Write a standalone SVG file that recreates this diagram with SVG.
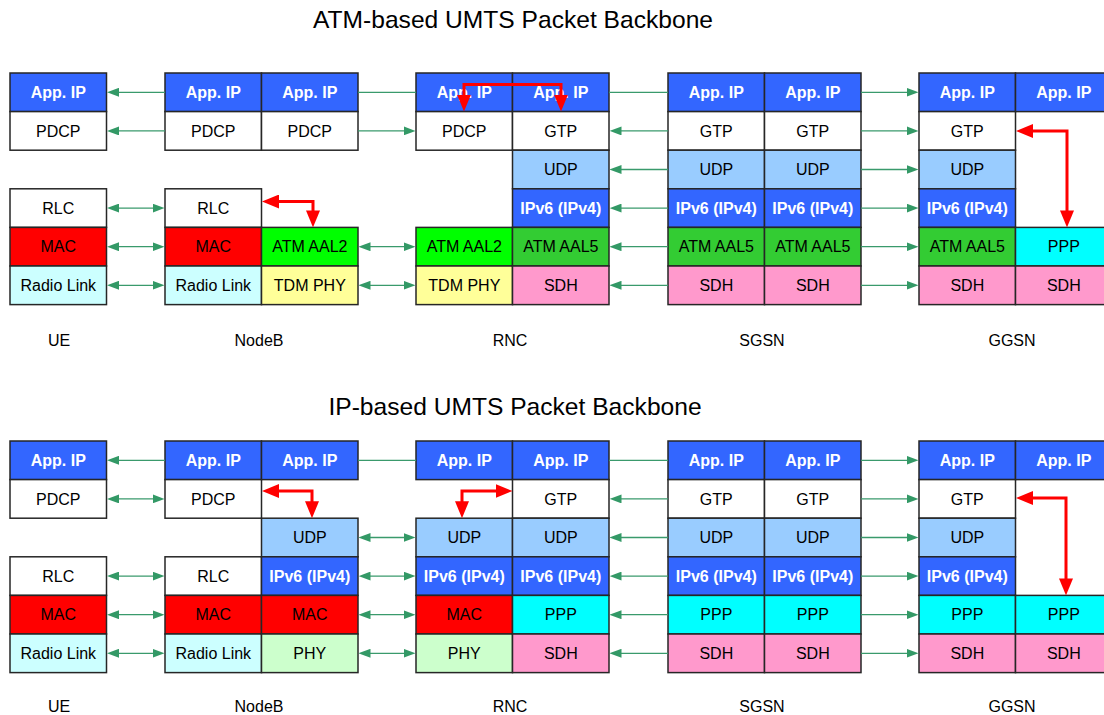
<svg xmlns="http://www.w3.org/2000/svg" width="1104" height="715" viewBox="0 0 1104 715">
  <style>
    text { font-family: "Liberation Sans", Arial, sans-serif; }
    .title { font-size: 24.6px; fill: #000; text-anchor: middle; }
    .lbl { font-size: 16px; fill: #000; text-anchor: middle; }
    .cell rect { stroke: #262626; stroke-width: 1.5; }
    .cell text { font-size: 16px; text-anchor: middle; fill: #000; }
    .cell text.w { fill: #fff; font-weight: bold; }
    .app { fill: #3366ff; }
    .wht { fill: #ffffff; }
    .udp { fill: #99ccff; }
    .ip6 { fill: #3366ff; }
    .aal2 { fill: #00ff00; }
    .aal5 { fill: #33cc33; }
    .tdm { fill: #ffff99; }
    .sdh { fill: #ff99cc; }
    .mac { fill: #ff0000; }
    .rad { fill: #ccffff; }
    .ppp { fill: #00ffff; }
    .phy { fill: #ccffcc; }
    .g { fill: none; stroke: #3a9a6c; stroke-width: 1.3; }
    .r { fill: none; stroke: #ff0000; stroke-width: 3; }
  </style>
  <defs>
    <marker id="ga" markerUnits="userSpaceOnUse" markerWidth="12" markerHeight="9" refX="7" refY="4.5" orient="auto-start-reverse">
      <path d="M0,0 L12,4.5 L0,9 z" fill="#339966"/>
    </marker>
    <marker id="ra" markerUnits="userSpaceOnUse" markerWidth="17" markerHeight="14" refX="8" refY="7" orient="auto-start-reverse">
      <path d="M0,0 L17,7 L0,14 z" fill="#ff0000"/>
    </marker>
  </defs>

  <text class="title" x="513" y="28">ATM-based UMTS Packet Backbone</text>
  <text class="title" x="515" y="415">IP-based UMTS Packet Backbone</text>

  <!-- ===== ATM-based backbone ===== -->
  <g id="ue-atm" class="cell">
    <rect class="app" x="10" y="73" width="96.5" height="38.6"/><text class="w" x="58.3" y="98">App. IP</text>
    <rect class="wht" x="10" y="111.6" width="96.5" height="38.6"/><text x="58.3" y="136.6">PDCP</text>
    <rect class="wht" x="10" y="188.8" width="96.5" height="38.6"/><text x="58.3" y="213.8">RLC</text>
    <rect class="mac" x="10" y="227.4" width="96.5" height="38.6"/><text x="58.3" y="252.4">MAC</text>
    <rect class="rad" x="10" y="266" width="96.5" height="38.6"/><text x="58.3" y="291">Radio Link</text>
  </g>
  <g id="nodeb-atm" class="cell">
    <rect class="app" x="165" y="73" width="96.5" height="38.6"/><text class="w" x="213.3" y="98">App. IP</text>
    <rect class="wht" x="165" y="111.6" width="96.5" height="38.6"/><text x="213.3" y="136.6">PDCP</text>
    <rect class="wht" x="165" y="188.8" width="96.5" height="38.6"/><text x="213.3" y="213.8">RLC</text>
    <rect class="mac" x="165" y="227.4" width="96.5" height="38.6"/><text x="213.3" y="252.4">MAC</text>
    <rect class="rad" x="165" y="266" width="96.5" height="38.6"/><text x="213.3" y="291">Radio Link</text>
    <rect class="app" x="261.5" y="73" width="96.5" height="38.6"/><text class="w" x="309.8" y="98">App. IP</text>
    <rect class="wht" x="261.5" y="111.6" width="96.5" height="38.6"/><text x="309.8" y="136.6">PDCP</text>
    <rect class="aal2" x="261.5" y="227.4" width="96.5" height="38.6"/><text x="309.8" y="252.4">ATM AAL2</text>
    <rect class="tdm" x="261.5" y="266" width="96.5" height="38.6"/><text x="309.8" y="291">TDM PHY</text>
  </g>
  <g id="rnc-atm" class="cell">
    <rect class="app" x="416" y="73" width="96.5" height="38.6"/><text class="w" x="464.3" y="98">App. IP</text>
    <rect class="wht" x="416" y="111.6" width="96.5" height="38.6"/><text x="464.3" y="136.6">PDCP</text>
    <rect class="aal2" x="416" y="227.4" width="96.5" height="38.6"/><text x="464.3" y="252.4">ATM AAL2</text>
    <rect class="tdm" x="416" y="266" width="96.5" height="38.6"/><text x="464.3" y="291">TDM PHY</text>
    <rect class="app" x="512.5" y="73" width="96.5" height="38.6"/><text class="w" x="560.8" y="98">App. IP</text>
    <rect class="wht" x="512.5" y="111.6" width="96.5" height="38.6"/><text x="560.8" y="136.6">GTP</text>
    <rect class="udp" x="512.5" y="150.2" width="96.5" height="38.6"/><text x="560.8" y="175.2">UDP</text>
    <rect class="ip6" x="512.5" y="188.8" width="96.5" height="38.6"/><text class="w" x="560.8" y="213.8">IPv6 (IPv4)</text>
    <rect class="aal5" x="512.5" y="227.4" width="96.5" height="38.6"/><text x="560.8" y="252.4">ATM AAL5</text>
    <rect class="sdh" x="512.5" y="266" width="96.5" height="38.6"/><text x="560.8" y="291">SDH</text>
  </g>
  <g id="sgsn-atm" class="cell">
    <rect class="app" x="668" y="73" width="96.5" height="38.6"/><text class="w" x="716.3" y="98">App. IP</text>
    <rect class="wht" x="668" y="111.6" width="96.5" height="38.6"/><text x="716.3" y="136.6">GTP</text>
    <rect class="udp" x="668" y="150.2" width="96.5" height="38.6"/><text x="716.3" y="175.2">UDP</text>
    <rect class="ip6" x="668" y="188.8" width="96.5" height="38.6"/><text class="w" x="716.3" y="213.8">IPv6 (IPv4)</text>
    <rect class="aal5" x="668" y="227.4" width="96.5" height="38.6"/><text x="716.3" y="252.4">ATM AAL5</text>
    <rect class="sdh" x="668" y="266" width="96.5" height="38.6"/><text x="716.3" y="291">SDH</text>
    <rect class="app" x="764.5" y="73" width="96.5" height="38.6"/><text class="w" x="812.8" y="98">App. IP</text>
    <rect class="wht" x="764.5" y="111.6" width="96.5" height="38.6"/><text x="812.8" y="136.6">GTP</text>
    <rect class="udp" x="764.5" y="150.2" width="96.5" height="38.6"/><text x="812.8" y="175.2">UDP</text>
    <rect class="ip6" x="764.5" y="188.8" width="96.5" height="38.6"/><text class="w" x="812.8" y="213.8">IPv6 (IPv4)</text>
    <rect class="aal5" x="764.5" y="227.4" width="96.5" height="38.6"/><text x="812.8" y="252.4">ATM AAL5</text>
    <rect class="sdh" x="764.5" y="266" width="96.5" height="38.6"/><text x="812.8" y="291">SDH</text>
  </g>
  <g id="ggsn-atm" class="cell">
    <rect class="app" x="919" y="73" width="96.5" height="38.6"/><text class="w" x="967.3" y="98">App. IP</text>
    <rect class="wht" x="919" y="111.6" width="96.5" height="38.6"/><text x="967.3" y="136.6">GTP</text>
    <rect class="udp" x="919" y="150.2" width="96.5" height="38.6"/><text x="967.3" y="175.2">UDP</text>
    <rect class="ip6" x="919" y="188.8" width="96.5" height="38.6"/><text class="w" x="967.3" y="213.8">IPv6 (IPv4)</text>
    <rect class="aal5" x="919" y="227.4" width="96.5" height="38.6"/><text x="967.3" y="252.4">ATM AAL5</text>
    <rect class="sdh" x="919" y="266" width="96.5" height="38.6"/><text x="967.3" y="291">SDH</text>
    <rect class="app" x="1015.5" y="73" width="96.5" height="38.6"/><text class="w" x="1063.8" y="98">App. IP</text>
    <rect class="ppp" x="1015.5" y="227.4" width="96.5" height="38.6"/><text x="1063.8" y="252.4">PPP</text>
    <rect class="sdh" x="1015.5" y="266" width="96.5" height="38.6"/><text x="1063.8" y="291">SDH</text>
  </g>
  <g id="labels-atm">
    <text class="lbl" x="59" y="346">UE</text>
    <text class="lbl" x="259" y="346">NodeB</text>
    <text class="lbl" x="510" y="346">RNC</text>
    <text class="lbl" x="762" y="346">SGSN</text>
    <text class="lbl" x="1012" y="346">GGSN</text>
  </g>

  <!-- ===== IP-based backbone ===== -->
  <g id="ue-ip" class="cell">
    <rect class="app" x="10" y="441" width="96.5" height="38.6"/><text class="w" x="58.3" y="466">App. IP</text>
    <rect class="wht" x="10" y="479.6" width="96.5" height="38.6"/><text x="58.3" y="504.6">PDCP</text>
    <rect class="wht" x="10" y="556.8" width="96.5" height="38.6"/><text x="58.3" y="581.8">RLC</text>
    <rect class="mac" x="10" y="595.4" width="96.5" height="38.6"/><text x="58.3" y="620.4">MAC</text>
    <rect class="rad" x="10" y="634" width="96.5" height="38.6"/><text x="58.3" y="659">Radio Link</text>
  </g>
  <g id="nodeb-ip" class="cell">
    <rect class="app" x="165" y="441" width="96.5" height="38.6"/><text class="w" x="213.3" y="466">App. IP</text>
    <rect class="wht" x="165" y="479.6" width="96.5" height="38.6"/><text x="213.3" y="504.6">PDCP</text>
    <rect class="wht" x="165" y="556.8" width="96.5" height="38.6"/><text x="213.3" y="581.8">RLC</text>
    <rect class="mac" x="165" y="595.4" width="96.5" height="38.6"/><text x="213.3" y="620.4">MAC</text>
    <rect class="rad" x="165" y="634" width="96.5" height="38.6"/><text x="213.3" y="659">Radio Link</text>
    <rect class="app" x="261.5" y="441" width="96.5" height="38.6"/><text class="w" x="309.8" y="466">App. IP</text>
    <rect class="udp" x="261.5" y="518.2" width="96.5" height="38.6"/><text x="309.8" y="543.2">UDP</text>
    <rect class="ip6" x="261.5" y="556.8" width="96.5" height="38.6"/><text class="w" x="309.8" y="581.8">IPv6 (IPv4)</text>
    <rect class="mac" x="261.5" y="595.4" width="96.5" height="38.6"/><text x="309.8" y="620.4">MAC</text>
    <rect class="phy" x="261.5" y="634" width="96.5" height="38.6"/><text x="309.8" y="659">PHY</text>
  </g>
  <g id="rnc-ip" class="cell">
    <rect class="app" x="416" y="441" width="96.5" height="38.6"/><text class="w" x="464.3" y="466">App. IP</text>
    <rect class="udp" x="416" y="518.2" width="96.5" height="38.6"/><text x="464.3" y="543.2">UDP</text>
    <rect class="ip6" x="416" y="556.8" width="96.5" height="38.6"/><text class="w" x="464.3" y="581.8">IPv6 (IPv4)</text>
    <rect class="mac" x="416" y="595.4" width="96.5" height="38.6"/><text x="464.3" y="620.4">MAC</text>
    <rect class="phy" x="416" y="634" width="96.5" height="38.6"/><text x="464.3" y="659">PHY</text>
    <rect class="app" x="512.5" y="441" width="96.5" height="38.6"/><text class="w" x="560.8" y="466">App. IP</text>
    <rect class="wht" x="512.5" y="479.6" width="96.5" height="38.6"/><text x="560.8" y="504.6">GTP</text>
    <rect class="udp" x="512.5" y="518.2" width="96.5" height="38.6"/><text x="560.8" y="543.2">UDP</text>
    <rect class="ip6" x="512.5" y="556.8" width="96.5" height="38.6"/><text class="w" x="560.8" y="581.8">IPv6 (IPv4)</text>
    <rect class="ppp" x="512.5" y="595.4" width="96.5" height="38.6"/><text x="560.8" y="620.4">PPP</text>
    <rect class="sdh" x="512.5" y="634" width="96.5" height="38.6"/><text x="560.8" y="659">SDH</text>
  </g>
  <g id="sgsn-ip" class="cell">
    <rect class="app" x="668" y="441" width="96.5" height="38.6"/><text class="w" x="716.3" y="466">App. IP</text>
    <rect class="wht" x="668" y="479.6" width="96.5" height="38.6"/><text x="716.3" y="504.6">GTP</text>
    <rect class="udp" x="668" y="518.2" width="96.5" height="38.6"/><text x="716.3" y="543.2">UDP</text>
    <rect class="ip6" x="668" y="556.8" width="96.5" height="38.6"/><text class="w" x="716.3" y="581.8">IPv6 (IPv4)</text>
    <rect class="ppp" x="668" y="595.4" width="96.5" height="38.6"/><text x="716.3" y="620.4">PPP</text>
    <rect class="sdh" x="668" y="634" width="96.5" height="38.6"/><text x="716.3" y="659">SDH</text>
    <rect class="app" x="764.5" y="441" width="96.5" height="38.6"/><text class="w" x="812.8" y="466">App. IP</text>
    <rect class="wht" x="764.5" y="479.6" width="96.5" height="38.6"/><text x="812.8" y="504.6">GTP</text>
    <rect class="udp" x="764.5" y="518.2" width="96.5" height="38.6"/><text x="812.8" y="543.2">UDP</text>
    <rect class="ip6" x="764.5" y="556.8" width="96.5" height="38.6"/><text class="w" x="812.8" y="581.8">IPv6 (IPv4)</text>
    <rect class="ppp" x="764.5" y="595.4" width="96.5" height="38.6"/><text x="812.8" y="620.4">PPP</text>
    <rect class="sdh" x="764.5" y="634" width="96.5" height="38.6"/><text x="812.8" y="659">SDH</text>
  </g>
  <g id="ggsn-ip" class="cell">
    <rect class="app" x="919" y="441" width="96.5" height="38.6"/><text class="w" x="967.3" y="466">App. IP</text>
    <rect class="wht" x="919" y="479.6" width="96.5" height="38.6"/><text x="967.3" y="504.6">GTP</text>
    <rect class="udp" x="919" y="518.2" width="96.5" height="38.6"/><text x="967.3" y="543.2">UDP</text>
    <rect class="ip6" x="919" y="556.8" width="96.5" height="38.6"/><text class="w" x="967.3" y="581.8">IPv6 (IPv4)</text>
    <rect class="ppp" x="919" y="595.4" width="96.5" height="38.6"/><text x="967.3" y="620.4">PPP</text>
    <rect class="sdh" x="919" y="634" width="96.5" height="38.6"/><text x="967.3" y="659">SDH</text>
    <rect class="app" x="1015.5" y="441" width="96.5" height="38.6"/><text class="w" x="1063.8" y="466">App. IP</text>
    <rect class="ppp" x="1015.5" y="595.4" width="96.5" height="38.6"/><text x="1063.8" y="620.4">PPP</text>
    <rect class="sdh" x="1015.5" y="634" width="96.5" height="38.6"/><text x="1063.8" y="659">SDH</text>
  </g>
  <g id="labels-ip">
    <text class="lbl" x="59" y="712">UE</text>
    <text class="lbl" x="259" y="712">NodeB</text>
    <text class="lbl" x="510" y="712">RNC</text>
    <text class="lbl" x="762" y="712">SGSN</text>
    <text class="lbl" x="1012" y="712">GGSN</text>
  </g>

  <!-- peer-layer links (green) and internal relays (red) -->
  <g id="connectors">
    <!-- ATM: UE - NodeB -->
    <path class="g" d="M165,92.3 H112" marker-end="url(#ga)"/>
    <path class="g" d="M165,130.9 H112" marker-end="url(#ga)"/>
    <path class="g" d="M112,208.1 H159.5" marker-start="url(#ga)" marker-end="url(#ga)"/>
    <path class="g" d="M112,246.7 H159.5" marker-start="url(#ga)" marker-end="url(#ga)"/>
    <path class="g" d="M112,285.3 H159.5" marker-start="url(#ga)" marker-end="url(#ga)"/>
    <!-- ATM: NodeB - RNC -->
    <path class="g" d="M358,92.3 H416"/>
    <path class="g" d="M358,130.9 H410.5" marker-end="url(#ga)"/>
    <path class="g" d="M363.5,246.7 H410.5" marker-start="url(#ga)" marker-end="url(#ga)"/>
    <path class="g" d="M363.5,285.3 H410.5" marker-start="url(#ga)" marker-end="url(#ga)"/>
    <!-- ATM: RNC - SGSN -->
    <path class="g" d="M609,92.3 H668"/>
    <path class="g" d="M668,130.9 H614.5" marker-end="url(#ga)"/>
    <path class="g" d="M668,169.5 H614.5" marker-end="url(#ga)"/>
    <path class="g" d="M668,208.1 H614.5" marker-end="url(#ga)"/>
    <path class="g" d="M668,246.7 H614.5" marker-end="url(#ga)"/>
    <path class="g" d="M668,285.3 H614.5" marker-end="url(#ga)"/>
    <!-- ATM: SGSN - GGSN -->
    <path class="g" d="M861,92.3 H913.5" marker-end="url(#ga)"/>
    <path class="g" d="M861,130.9 H913.5" marker-end="url(#ga)"/>
    <path class="g" d="M861,169.5 H913.5" marker-end="url(#ga)"/>
    <path class="g" d="M861,208.1 H913.5" marker-end="url(#ga)"/>
    <path class="g" d="M861,246.7 H913.5" marker-end="url(#ga)"/>
    <path class="g" d="M861,285.3 H913.5" marker-end="url(#ga)"/>

    <!-- IP: UE - NodeB -->
    <path class="g" d="M165,460.3 H112" marker-end="url(#ga)"/>
    <path class="g" d="M112,498.9 H159.5" marker-start="url(#ga)" marker-end="url(#ga)"/>
    <path class="g" d="M112,576.1 H159.5" marker-start="url(#ga)" marker-end="url(#ga)"/>
    <path class="g" d="M112,614.7 H159.5" marker-start="url(#ga)" marker-end="url(#ga)"/>
    <path class="g" d="M112,653.3 H159.5" marker-start="url(#ga)" marker-end="url(#ga)"/>
    <!-- IP: NodeB - RNC -->
    <path class="g" d="M358,460.3 H416"/>
    <path class="g" d="M363.5,537.5 H410.5" marker-start="url(#ga)" marker-end="url(#ga)"/>
    <path class="g" d="M363.5,576.1 H410.5" marker-start="url(#ga)" marker-end="url(#ga)"/>
    <path class="g" d="M363.5,614.7 H410.5" marker-start="url(#ga)" marker-end="url(#ga)"/>
    <path class="g" d="M363.5,653.3 H410.5" marker-start="url(#ga)" marker-end="url(#ga)"/>
    <!-- IP: RNC - SGSN -->
    <path class="g" d="M609,460.3 H668"/>
    <path class="g" d="M668,498.9 H614.5" marker-end="url(#ga)"/>
    <path class="g" d="M668,537.5 H614.5" marker-end="url(#ga)"/>
    <path class="g" d="M668,576.1 H614.5" marker-end="url(#ga)"/>
    <path class="g" d="M668,614.7 H614.5" marker-end="url(#ga)"/>
    <path class="g" d="M668,653.3 H614.5" marker-end="url(#ga)"/>
    <!-- IP: SGSN - GGSN -->
    <path class="g" d="M861,460.3 H913.5" marker-end="url(#ga)"/>
    <path class="g" d="M861,498.9 H913.5" marker-end="url(#ga)"/>
    <path class="g" d="M861,537.5 H913.5" marker-end="url(#ga)"/>
    <path class="g" d="M861,576.1 H913.5" marker-end="url(#ga)"/>
    <path class="g" d="M861,614.7 H913.5" marker-end="url(#ga)"/>
    <path class="g" d="M861,653.3 H913.5" marker-end="url(#ga)"/>

    <!-- relays inside nodes -->
    <path class="r" d="M271,201.5 H313 V218.4" marker-start="url(#ra)" marker-end="url(#ra)"/>
    <path class="r" d="M464,102.6 V84.5 H561 V102.6" marker-start="url(#ra)" marker-end="url(#ra)"/>
    <path class="r" d="M1025,131 H1067 V218.4" marker-start="url(#ra)" marker-end="url(#ra)"/>
    <path class="r" d="M271,491 H312 V509.2" marker-start="url(#ra)" marker-end="url(#ra)"/>
    <path class="r" d="M462,509.2 V491 H503.5" marker-start="url(#ra)" marker-end="url(#ra)"/>
    <path class="r" d="M1025,498 H1066 V586.4" marker-start="url(#ra)" marker-end="url(#ra)"/>
  </g>
</svg>
